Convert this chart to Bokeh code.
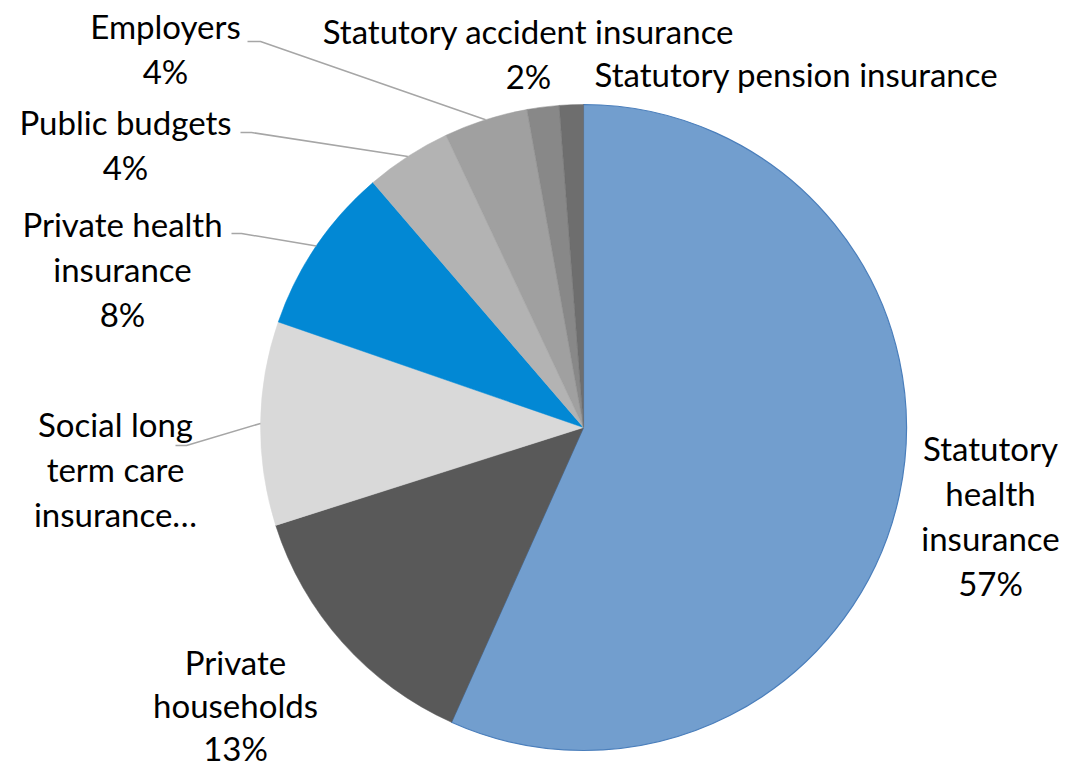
import math
from bokeh.plotting import figure
from bokeh.models import Range1d
from bokeh.core.properties import value
from bokeh.embed import file_html
from bokeh.resources import INLINE

# ---- data ----
categories = ["Statutory health insurance", "Private households",
              "Social long term care insurance", "Private health insurance",
              "Public budgets", "Employers", "Statutory accident insurance",
              "Statutory pension insurance"]
shares = [56.7, 13.4, 10.2, 8.4, 4.3, 4.2, 1.6, 1.2]
colors = ["#729ECE", "#595959", "#D9D9D9", "#0288D4",
          "#B3B3B3", "#A0A0A0", "#888888", "#6E6E6E"]
# label line breaks as shown; percent not shown for two slices
label_lines = [["Statutory", "health", "insurance"],
               ["Private", "households"],
               ["Social long", "term care", "insurance…"],
               ["Private health", "insurance"],
               ["Public budgets"],
               ["Employers"],
               ["Statutory accident insurance"],
               ["Statutory pension insurance"]]
show_pct = [True, True, False, True, True, True, True, False]

# ---- layout (pixel space, y measured from top) ----
W, H = 1070, 770
CX, CY, R = 583, 427, 323
FS = 33
LH = 45
label_pos = [(990, 447), (235, 661), (115, 423), (122, 223),
             (125, 121), (165, 25), (528, 30), (796, 73)]
label_lh = [LH, 43, LH, LH, LH, LH, LH, LH]
leader_start = {2: [(175, 445), (186, 445)],
                3: [(231, 233), (241, 233)],
                4: [(240, 132), (251, 132)],
                5: [(247, 41), (260, 41)]}

p = figure(width=W, height=H, output_backend="svg", toolbar_location=None,
           x_range=Range1d(0, W), y_range=Range1d(0, H), min_border=0)
p.axis.visible = False
p.grid.visible = False
p.outline_line_color = None
p.background_fill_color = "white"

def fy(y):
    return H - y

total = sum(shares)
cum = 0.0
starts, ends, mids = [], [], []
for s in shares:
    a0 = math.pi / 2 - 2 * math.pi * cum / total
    cum += s
    a1 = math.pi / 2 - 2 * math.pi * cum / total
    starts.append(a0)
    ends.append(a1)
    mids.append((a0 + a1) / 2)

for i in range(len(shares)):
    p.wedge(x=CX, y=fy(CY), radius=R, start_angle=starts[i], end_angle=ends[i],
            direction="clock", fill_color=colors[i],
            line_color="#4A7EBB" if i == 0 else colors[i],
            line_width=1.2 if i == 0 else 0.5)

# leader lines
for i, pts in leader_start.items():
    ex = CX + R * math.cos(mids[i])
    ey = fy(CY) + R * math.sin(mids[i])
    xs = [pt[0] for pt in pts] + [ex]
    ys = [fy(pt[1]) for pt in pts] + [ey]
    p.line(xs, ys, line_color="#A6A6A6", line_width=1.5)

# labels
tx, ty, tt = [], [], []
for i, lines in enumerate(label_lines):
    lines = list(lines)
    if show_pct[i]:
        lines.append(f"{round(shares[i])}%")
    x0, y0 = label_pos[i]
    for k, ln in enumerate(lines):
        tx.append(x0)
        ty.append(fy(y0 + k * label_lh[i]))
        tt.append(ln)
p.text(x=tx, y=ty, text=tt, text_font=value("Lato"), text_font_size=f"{FS}px",
       text_align="center", text_baseline="middle", text_color="black")

open("out.html", "w").write(file_html(p, INLINE))
